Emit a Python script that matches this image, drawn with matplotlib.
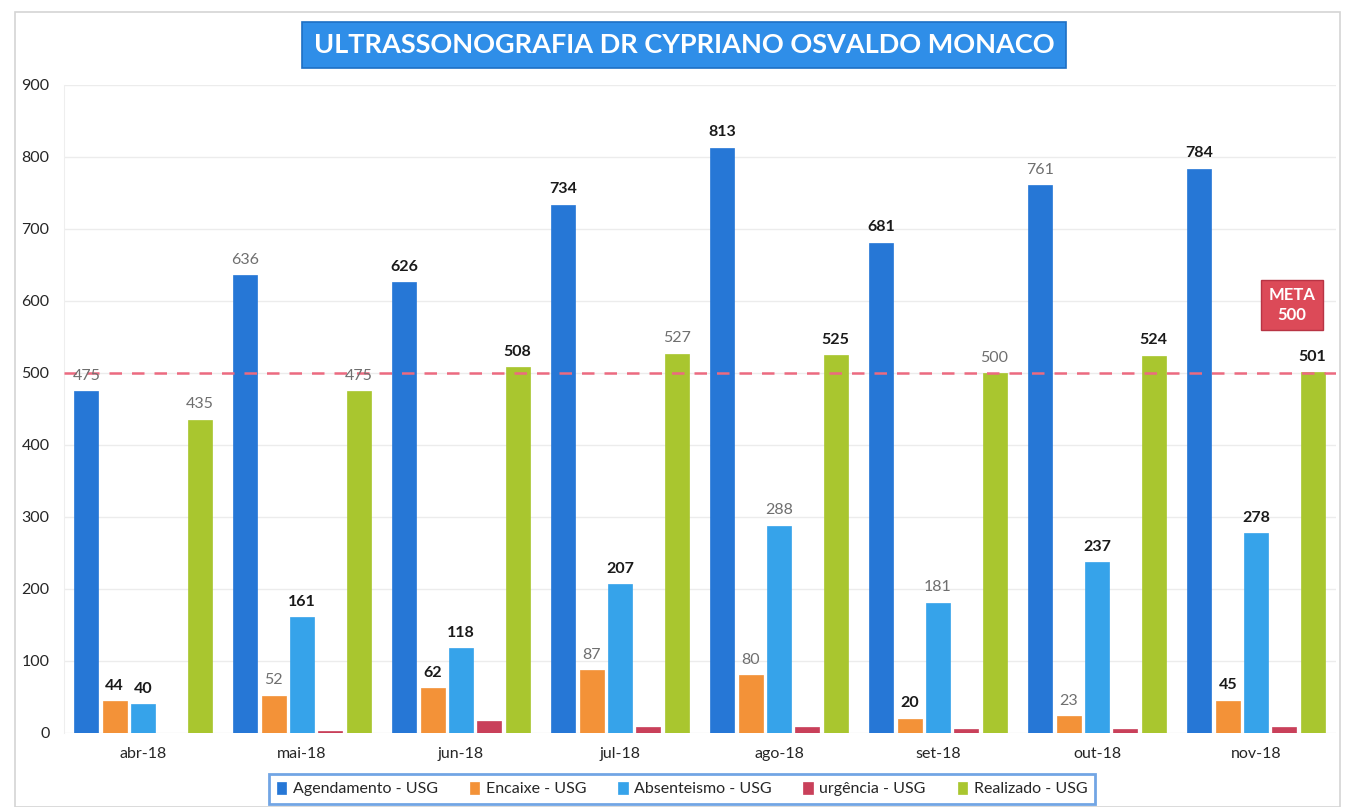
import matplotlib.pyplot as plt
import numpy as np
from matplotlib.patches import Rectangle

plt.rcParams['font.family'] = ['Lato', 'DejaVu Sans']

# ---- data ----
months = ["abr-18", "mai-18", "jun-18", "jul-18", "ago-18", "set-18", "out-18", "nov-18"]
agendamento = [475, 636, 626, 734, 813, 681, 761, 784]
encaixe = [44, 52, 62, 87, 80, 20, 23, 45]
absenteismo = [40, 161, 118, 207, 288, 181, 237, 278]
urgencia = [0, 3, 17, 9, 9, 6, 5, 8]
realizado = [435, 475, 508, 527, 525, 500, 524, 501]
meta = 500

series = [
    ("Agendamento - USG", agendamento, "#2677d6", True),
    ("Encaixe - USG", encaixe, "#f39238", True),
    ("Absenteismo - USG", absenteismo, "#36a3ea", True),
    ("urgência - USG", urgencia, "#c9405a", False),
    ("Realizado - USG", realizado, "#a9c62f", True),
]
# labels that appear lighter (grey) in the source
light_labels = {(0, 0), (0, 1), (0, 6), (1, 1), (1, 3), (1, 4), (1, 6),
                (2, 4), (2, 5), (4, 0), (4, 1), (4, 3), (4, 5)}

fig = plt.figure(figsize=(13.46, 8.07), dpi=100)
ax = fig.add_axes([63.5 / 1346, 1 - 733 / 807, (1335.5 - 63.5) / 1346, (733 - 85) / 807])

# outer chart frame
fig.patches.append(Rectangle((15 / 1346, 0.0), 1325 / 1346, 1 - 12 / 807,
                             transform=fig.transFigure, fill=False,
                             edgecolor="#d4d4d4", linewidth=1.2))

x = np.arange(len(months))
slot = 0.178
width = 0.15
for i, (name, vals, col, show) in enumerate(series):
    pos = x + (i - 2) * slot
    bars = ax.bar(pos, vals, width, color=col, edgecolor=col, linewidth=0.5,
                  label=name, zorder=3)
    if not show:
        continue
    for j, (b, v) in enumerate(zip(bars, vals)):
        light = (i, j) in light_labels
        ax.annotate(str(v), (b.get_x() + b.get_width() / 2, v),
                    xytext=(0, 6), textcoords="offset points",
                    ha="center", va="bottom", fontsize=11.5,
                    fontweight="normal" if light else "bold",
                    color="#6f6f6f" if light else "#1a1a1a", zorder=5)

# meta line
ax.axhline(meta, color="#ec6a80", linestyle=(0, (5, 4)), linewidth=1.8, zorder=4)

ax.set_xlim(-0.5, len(months) - 0.5)
ax.set_ylim(0, 900)
ax.set_yticks(range(0, 901, 100))
ax.set_xticks(x)
ax.set_xticklabels(months)
ax.tick_params(axis="y", length=0, labelsize=11.5, colors="#262626", pad=10)
ax.tick_params(axis="x", length=0, labelsize=11.5, colors="#262626", pad=10)
ax.grid(axis="y", color="#ececec", linewidth=1.0, zorder=0)
for s in ["top", "right", "bottom"]:
    ax.spines[s].set_visible(False)
ax.spines["left"].set_color("#eeeeee")

# title box
fig.text(684 / 1346, 1 - 45 / 807, "ULTRASSONOGRAFIA DR CYPRIANO OSVALDO MONACO",
         ha="center", va="center", fontsize=19.5, fontweight="bold", color="white",
         bbox=dict(boxstyle="square,pad=0.42", facecolor="#2f8ee8",
                   edgecolor="#1d6fc4", linewidth=1.2))

# META box
fig.text(1292 / 1346, 1 - 305 / 807, "META\n500", ha="center", va="center",
         fontsize=12, fontweight="bold", color="white", linespacing=1.25,
         bbox=dict(boxstyle="square,pad=0.45", facecolor="#dc4a58",
                   edgecolor="#b83444", linewidth=1.0))

# legend
leg = fig.legend(loc="center", bbox_to_anchor=(682 / 1346, 1 - 789 / 807), ncol=5,
                 fontsize=11.5, frameon=True, fancybox=False, handlelength=0.6,
                 handleheight=0.8, handletextpad=0.4, columnspacing=2.0,
                 borderpad=0.45)
leg.get_frame().set_edgecolor("#4f8fde")
leg.get_frame().set_linewidth(2.0)
for t in leg.get_texts():
    t.set_color("#262626")

fig.savefig("out.png", dpi=100)
